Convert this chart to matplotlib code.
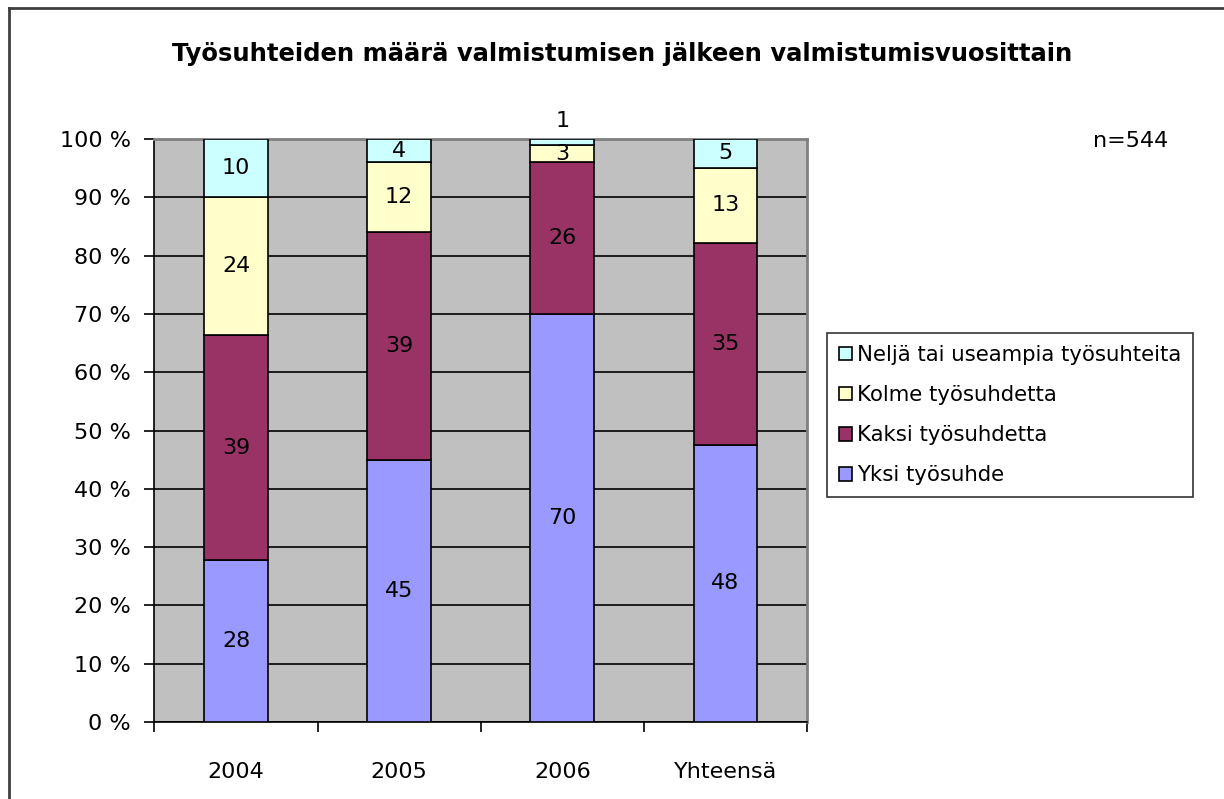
import matplotlib.pyplot as plt
import numpy as np
from matplotlib.lines import Line2D

plt.rcParams['font.family'] = ['DejaVu Sans']

# Data (percent labels per year)
categories = ['2004', '2005', '2006', 'Yhteensä']
series_names = ['Yksi työsuhde', 'Kaksi työsuhdetta', 'Kolme työsuhdetta',
                'Neljä tai useampia työsuhteita']
yksi = [28, 45, 70, 48]
kaksi = [39, 39, 26, 35]
kolme = [24, 12, 3, 13]
nelja = [10, 4, 1, 5]
colors = ['#9999FF', '#993366', '#FFFFCC', '#CCFFFF']

values = np.array([yksi, kaksi, kolme, nelja], dtype=float)
shares = values / values.sum(axis=0) * 100

fig = plt.figure(figsize=(12.24, 7.99), dpi=100)
ax = fig.add_axes([0.1262, 0.0964, 0.5331, 0.7296])
ax.set_facecolor('#C0C0C0')

x = np.arange(len(categories))
bottom = np.zeros(len(categories))
handles = []
for i in range(4):
    b = ax.bar(x, shares[i], bottom=bottom, width=0.39, color=colors[i],
               edgecolor='black', linewidth=1.2, zorder=3, label=series_names[i])
    handles.append(b)
    for j in range(len(categories)):
        val = values[i, j]
        mid = bottom[j] + shares[i, j] / 2
        if shares[i, j] < 2:
            # tiny segment: label sits above the bar
            ax.text(x[j], bottom[j] + shares[i, j] + 1.3, f'{val:.0f}', ha='center',
                    va='bottom', fontsize=16, clip_on=False)
        else:
            ax.text(x[j], mid, f'{val:.0f}', ha='center', va='center',
                    fontsize=16, zorder=4)
    bottom += shares[i]

ax.set_xlim(-0.5, len(categories) - 0.5)
ax.set_ylim(0, 100)
ax.set_yticks(np.arange(0, 101, 10))
ax.set_yticklabels([f'{v} %' for v in range(0, 101, 10)])
ax.set_xticks(x)
ax.set_xticklabels(categories)
ax.set_xticks(np.arange(-0.5, len(categories)), minor=True)
ax.tick_params(axis='x', which='major', length=0, pad=29, labelsize=16)
ax.tick_params(axis='x', which='minor', length=7, width=1.2, direction='out')
ax.tick_params(axis='y', length=7, width=1.2, direction='out', pad=10, labelsize=16)
ax.yaxis.grid(True, color='black', linewidth=1.2, zorder=0)
ax.set_axisbelow(True)

for side in ['top', 'right']:
    ax.spines[side].set_color('#808080')
    ax.spines[side].set_linewidth(2)
ax.spines['left'].set_linewidth(1.2)
ax.spines['bottom'].set_linewidth(1.2)

fig.text(0.508, 0.933, 'Työsuhteiden määrä valmistumisen jälkeen valmistumisvuosittain',
         ha='center', va='center', fontsize=17.5, fontweight='bold')
fig.text(0.924, 0.823, 'n=544', ha='center', va='center', fontsize=16)

leg = fig.legend(handles[::-1], series_names[::-1], loc='upper left',
                 bbox_to_anchor=(0.676, 0.583), frameon=True, fancybox=False,
                 edgecolor='black', fontsize=15.3, handlelength=0.6, handleheight=0.6,
                 handletextpad=0.25, borderpad=0.55, labelspacing=0.95,
                 borderaxespad=0)
leg.get_frame().set_linewidth(1.2)

# figure border (left and top visible)
fig.add_artist(Line2D([0.0075, 0.0075], [0, 0.99], color='#404040', linewidth=2,
                      transform=fig.transFigure))
fig.add_artist(Line2D([0.0075, 1], [0.99, 0.99], color='#404040', linewidth=2,
                      transform=fig.transFigure))

fig.savefig('out.png', dpi=100)
